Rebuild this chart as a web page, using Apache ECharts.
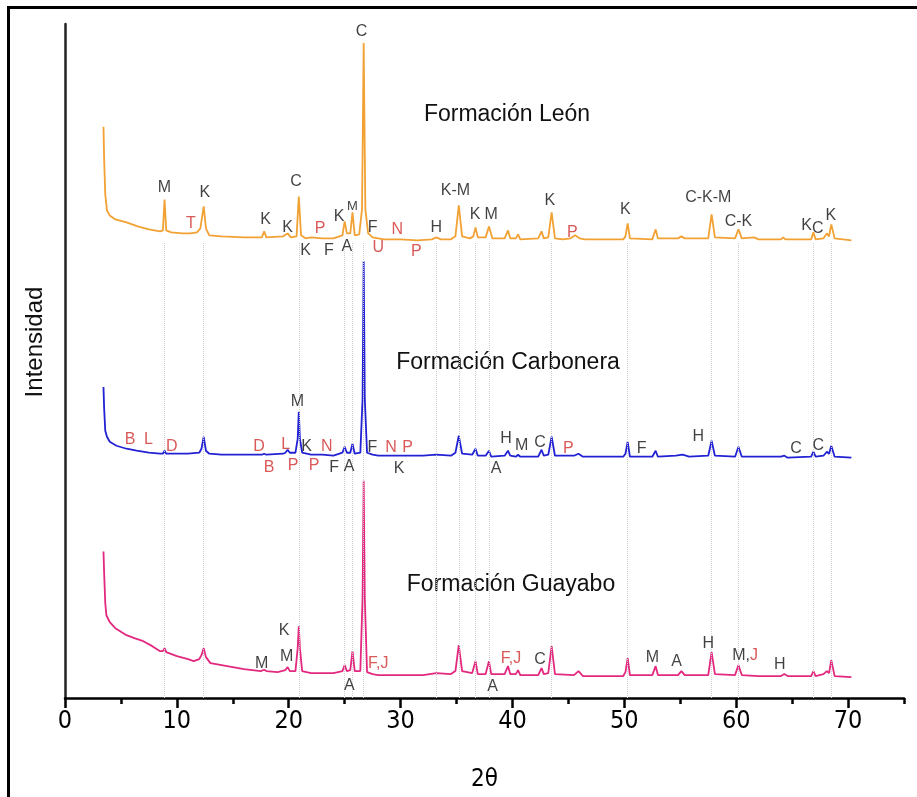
<!DOCTYPE html>
<html><head><meta charset="utf-8">
<script src="https://cdn.jsdelivr.net/npm/echarts@6/dist/echarts.min.js"></script>
<style>html,body{margin:0;padding:0;background:#fff}#c{width:917px;height:797px}</style>
</head><body><div id="c"></div>
<script>
// ---- data: 2theta vs intensity (a.u., patterns stacked with offsets) ----
const LEON = [[3.44,573],[3.5,540],[3.6,505],[3.75,489],[4.0,484],[4.5,480],[5.5,477],[6.5,473],[7.5,470],[8.5,468],[8.75,469],[8.9,500],[9.05,469],[9.5,467],[10.5,466],[11.2,466],[11.8,467],[12.1,471],[12.4,493],[12.6,471],[12.9,464],[14,463],[16,462],[17.6,462],[17.8,468],[18.0,462],[19.5,463],[19.9,466],[20.2,462],[20.7,463],[20.9,503],[21.1,464],[21.5,461],[22,462],[23,461],[24,461],[24.8,464],[25.0,478],[25.2,466],[25.5,466],[25.7,487],[25.9,464],[26.3,465],[26.55,490],[26.65,600],[26.7,657],[26.75,600],[26.85,490],[27.1,466],[27.5,462],[28,461],[28.5,460],[30,460],[31.5,459],[32.8,460],[33.2,462],[33.6,460],[34.5,460],[34.9,463],[35.2,494],[35.5,463],[36.2,461],[36.5,463],[36.7,472],[36.9,462],[37.6,462],[37.9,473],[38.2,461],[39.3,461],[39.6,469],[39.8,461],[40.3,461],[40.5,465],[40.7,460],[42.3,461],[42.6,468],[42.8,461],[43.2,462],[43.5,487],[43.8,461],[44.5,460],[45.2,461],[45.6,464],[46.0,461],[46.5,460],[49.9,460],[50.1,463],[50.3,476],[50.5,461],[52.5,460],[52.8,470],[53.0,461],[54.8,461],[55.1,463],[55.4,461],[57.5,461],[57.8,485],[58.1,462],[59.9,461],[60.2,470],[60.5,461],[61.6,462],[62,460],[64.0,460],[64.2,462],[64.4,460],[66.7,460],[66.9,467],[67.1,460],[67.8,461],[68.1,466],[68.3,463],[68.5,475],[68.8,461],[70.3,459]];

const CARBONERA = [[3.44,312],[3.5,290],[3.6,268],[3.75,262],[4.0,257],[4.6,253],[5.5,250],[6.4,248],[7.5,246],[8.5,245],[8.75,245],[8.9,248],[9.05,245],[10,245],[11,245],[12.0,246],[12.2,250],[12.4,262],[12.6,248],[12.9,245],[14,244],[16,244],[17.6,244],[17.8,245],[18,244],[19.5,245],[19.7,246],[19.9,249],[20.1,246],[20.6,246],[20.8,260],[20.9,287],[21.0,260],[21.2,246],[22,244],[23,244],[24,243],[24.8,246],[25.0,252],[25.2,246],[25.5,246],[25.7,255],[25.9,245],[26.4,246],[26.6,300],[26.7,438],[26.8,300],[27.0,246],[27.5,244],[28,243],[30,243],[32,243],[33.2,244],[34.5,243],[34.9,246],[35.2,263],[35.5,245],[36.4,244],[36.7,250],[36.9,243],[37.6,243],[37.9,248],[38.1,242],[39.3,243],[39.6,248],[39.8,243],[40.3,242],[40.5,244],[40.7,242],[42.3,242],[42.6,249],[42.8,243],[43.2,244],[43.5,262],[43.8,243],[45.5,243],[45.9,245],[46.3,242],[49.9,242],[50.1,245],[50.3,257],[50.5,242],[52.5,242],[52.8,248],[53.0,242],[54.6,243],[55.2,244],[55.8,242],[57.5,243],[57.8,258],[58.1,243],[59.9,242],[60.2,252],[60.5,242],[62,242],[64.0,242],[64.3,243],[64.6,241],[66.7,242],[66.9,247],[67.1,242],[67.8,243],[68.1,247],[68.3,245],[68.5,253],[68.8,242],[70.3,241]];

const GUAYABO = [[3.44,147],[3.5,125],[3.6,95],[3.7,83],[4.0,76],[4.5,70],[5.5,63],[6.2,60],[7.0,57],[7.8,52],[8.5,47],[8.75,47],[8.9,50],[9.05,46],[10,42],[11,39],[11.5,37],[12.0,39],[12.2,43],[12.4,50],[12.6,41],[13.0,35],[14.5,32],[16,29],[17.5,27],[17.8,28.3],[18.0,27],[19,26],[19.7,28],[19.9,31],[20.1,27],[20.6,27],[20.8,50],[20.9,72],[21.0,50],[21.2,27],[22,25],[23,25],[24,25],[24.8,27],[25.0,33],[25.2,27],[25.5,28],[25.7,47],[25.9,27],[26.4,27],[26.6,100],[26.7,218],[26.8,100],[27.0,26],[27.5,24],[28,23],[30,23],[32,23],[33.2,25],[34.5,24],[34.9,27],[35.2,53],[35.5,27],[36.4,25],[36.7,37],[36.9,24],[37.6,24],[37.9,37],[38.1,24],[39.3,24],[39.6,32],[39.8,24],[40.3,24],[40.5,28],[40.7,23],[42.3,23],[42.6,30],[42.8,24],[43.2,25],[43.5,52],[43.8,24],[45.5,23],[45.9,27],[46.3,22],[49.9,22],[50.1,26],[50.3,40],[50.5,23],[52.5,23],[52.8,32],[53.0,23],[54.8,23],[55.1,27],[55.4,23],[57.5,23],[57.8,46],[58.1,24],[59.9,23],[60.2,33],[60.5,23],[62,22],[64.0,22],[64.3,24],[64.6,22],[66.7,22],[66.9,27],[67.1,22],[67.8,24],[68.1,27],[68.3,25],[68.5,38],[68.8,22],[70.3,21]];

// reference peak positions (2theta) marked with dotted guides, and guide top level
const PEAK_GUIDES = [8.9, 12.4, 20.9, 25.0, 25.7, 26.7, 33.2, 35.2, 36.7, 37.9, 43.5, 50.3, 57.8, 60.2, 66.9, 68.5];
const GUIDE_TOP = 457;

// phase annotations: [2theta, level, text, group]  group: k = black, r = red, s = small black, m = mixed
const LEON_LABELS = [[26.5,668,'C','k'],[8.88,512,'M','k'],[12.5,507,'K','k'],[11.26,476,'T','r'],[20.65,518,'C','k'],[17.94,480,'K','k'],[19.9,472,'K','k'],[21.5,449,'K','k'],[22.8,471,'P','r'],[23.6,449,'F','k'],[24.5,483,'K','k'],[25.7,493,'M','s'],[25.2,453,'A','k'],[27.5,472,'F','k'],[28.0,452,'U','r'],[29.7,470,'N','r'],[31.4,448,'P','r'],[33.2,472,'H','k'],[34.9,509,'K-M','k'],[36.65,485,'K','k'],[38.1,485,'M','k'],[43.35,499,'K','k'],[45.35,467,'P','r'],[50.1,490,'K','k'],[57.5,502,'C-K-M','k'],[60.2,478,'C-K','k'],[66.3,474,'K','k'],[67.3,471,'C','k'],[68.45,484,'K','k']];
const CARBONERA_LABELS = [[20.77,297,'M','k'],[5.81,259,'B','r'],[7.45,259,'L','r'],[9.54,252,'D','r'],[17.34,252,'D','r'],[19.73,254,'L','r'],[21.6,252,'K','k'],[23.4,252,'N','r'],[18.24,231,'B','r'],[20.4,233,'P','r'],[22.26,233,'P','r'],[24.05,231,'F','k'],[25.4,232,'A','k'],[27.47,251,'F','k'],[29.14,251,'N','r'],[30.63,251,'P','r'],[29.86,230,'K','k'],[39.42,260,'H','k'],[40.82,253,'M','k'],[42.46,256,'C','k'],[38.53,230,'A','k'],[44.99,250,'P','r'],[51.55,250,'F','k'],[56.61,262,'H','k'],[65.34,250,'C','k'],[67.34,253,'C','k']];
const GUAYABO_LABELS = [[19.58,68,'K','k'],[19.82,42,'M','k'],[17.58,35,'M','k'],[25.41,12,'A','k'],[28.0,35,'F,J','r'],[39.87,40,'F,J','r'],[42.46,39,'C','k'],[38.23,11,'A','k'],[52.5,41,'M','k'],[54.68,37,'A','k'],[57.5,55,'H','k'],[60.8,43,'M,J','m'],[63.9,34,'H','k']];

const FORMATIONS = ['Formación León', 'Formación Carbonera', 'Formación Guayabo'];
const MAJOR_TICKS = [0,10,20,30,40,50,60,70];
const MINOR_TICKS = [5,15,25,35,45,55,65,75];

// ---- styles ----
const COLORS = ['#F2A134', '#2222D4', '#E3287F'];
const BLACK = '#111', RED = '#D0302E';
const SANS = '"Liberation Sans", Arial, sans-serif';
const NARROW = '"Liberation Sans Narrow", "DejaVu Sans Condensed", "Liberation Sans", sans-serif';

function labelItems(list) {
  return list.map(([x, y, t, g]) => {
    const lab = { color: g === 'r' ? RED : BLACK, fontSize: g === 's' ? 13 : 16 };
    if (g === 'm') {
      const parts = t.split(',');
      lab.formatter = '{k|' + parts[0] + ',}{r|' + parts[1] + '}';
      lab.rich = { k: { color: BLACK, fontSize: 16, fontFamily: SANS }, r: { color: RED, fontSize: 16, fontFamily: SANS } };
    }
    return { value: [x, y], name: t, label: lab };
  });
}

const chart = echarts.init(document.getElementById('c'), null, { renderer: 'canvas' });
const lineSeries = (name, data, color) => ({
  name, type: 'line', data, showSymbol: false, symbol: 'none', smooth: false,
  lineStyle: { color, width: 1.8 }, silent: true, z: 3
});
const labelSeries = (list) => ({
  type: 'scatter', data: labelItems(list), symbolSize: 0, silent: true, z: 5,
  label: { show: true, position: 'inside', formatter: '{b}', fontFamily: SANS, fontSize: 16, color: BLACK }
});

chart.setOption({
  animation: false,
  backgroundColor: '#fff',
  grid: { left: 65, right: 13, top: 24, bottom: 97, containLabel: false },
  xAxis: [
    { type: 'value', min: 0, max: 75, position: 'bottom',
      axisLine: { show: true, onZero: false, lineStyle: { color: '#000', width: 2.5 } },
      axisTick: { show: true, customValues: MAJOR_TICKS, length: 10, inside: false, lineStyle: { color: '#000', width: 2.5 } },
      axisLabel: { customValues: MAJOR_TICKS, color: '#000', fontSize: 25, fontFamily: NARROW, margin: 11 },
      splitLine: { show: false },
      name: '2θ', nameLocation: 'middle', nameGap: 70,
      nameTextStyle: { color: '#000', fontSize: 24, fontFamily: NARROW } },
    { type: 'value', min: 0, max: 75, position: 'bottom',
      axisLine: { show: false, onZero: false },
      axisTick: { show: true, customValues: MINOR_TICKS, length: 6, inside: false, lineStyle: { color: '#000', width: 2.5 } },
      axisLabel: { show: false }, splitLine: { show: false } }
  ],
  yAxis: { type: 'value', min: 0, max: 676,
    axisLine: { show: true, onZero: false, lineStyle: { color: '#222', width: 2.5 } },
    axisTick: { show: false }, axisLabel: { show: false }, splitLine: { show: false } },
  series: [
    { type: 'line', data: [], silent: true, z: 1,
      markLine: { silent: true, symbol: 'none', label: { show: false },
        lineStyle: { color: '#cdcdcd', type: 'dotted', width: 1 },
        data: PEAK_GUIDES.map(x => [{ coord: [x, 0] }, { coord: [x, GUIDE_TOP] }]) } },
    lineSeries(FORMATIONS[0], LEON, COLORS[0]),
    lineSeries(FORMATIONS[1], CARBONERA, COLORS[1]),
    lineSeries(FORMATIONS[2], GUAYABO, COLORS[2]),
    labelSeries(LEON_LABELS),
    labelSeries(CARBONERA_LABELS),
    labelSeries(GUAYABO_LABELS)
  ],
  graphic: [
    { type: 'rect', shape: { x: 7, y: 6, width: 910, height: 3 }, style: { fill: '#000' }, silent: true },
    { type: 'rect', shape: { x: 7, y: 6, width: 3, height: 791 }, style: { fill: '#000' }, silent: true },
    { type: 'text', x: 507, y: 115, silent: true, style: { text: FORMATIONS[0], fontSize: 23, fontFamily: SANS, fill: '#111', align: 'center', verticalAlign: 'middle' } },
    { type: 'text', x: 508, y: 363, silent: true, style: { text: FORMATIONS[1], fontSize: 23, fontFamily: SANS, fill: '#111', align: 'center', verticalAlign: 'middle' } },
    { type: 'text', x: 511, y: 585, silent: true, style: { text: FORMATIONS[2], fontSize: 23, fontFamily: SANS, fill: '#111', align: 'center', verticalAlign: 'middle' } },
    { type: 'text', x: 35, y: 342, rotation: Math.PI / 2, silent: true, style: { text: 'Intensidad', fontSize: 24, fontFamily: SANS, fill: '#111', align: 'center', verticalAlign: 'middle' } }
  ]
});
</script></body></html>
